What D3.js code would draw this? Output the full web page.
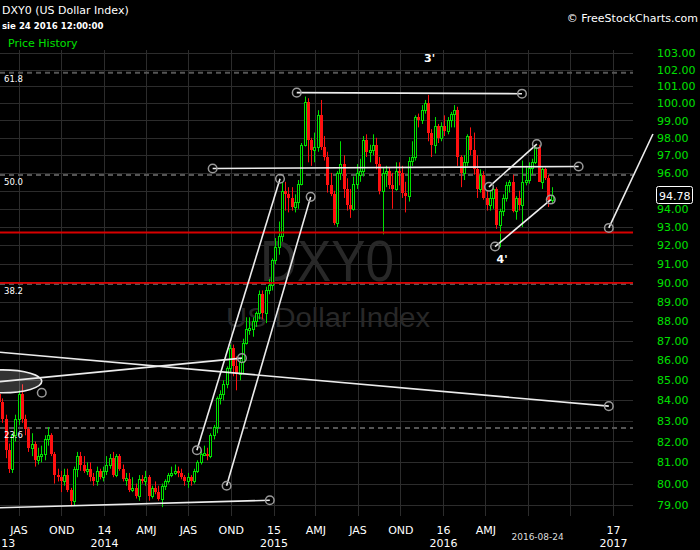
<!DOCTYPE html>
<html><head><meta charset="utf-8">
<script src="https://cdn.jsdelivr.net/npm/d3@7"></script>
<style>html,body{margin:0;padding:0;background:#000;} svg{display:block;}</style>
</head><body>
<svg id="c" width="700" height="550"></svg>
<script>
// ---------------- DATA ----------------
const firstWeek = "2013-05-20"; // weekly candles, one per week from here
const opens = [
 84.3,83.9,83.1,81.6,80.7,82.3,83.1,84.3,83.1,82.6,
 81.7,81.9,81.1,81.3,81.4,82.1,82.3,81.4,80.4,80.3,
 80.1,80.4,79.7,79.2,80.7,81.3,80.9,80.6,80.7,80.3,
 80.1,80.6,80.3,80.6,80.9,81.2,80.4,81.3,80.7,80.15,
 80.2,79.7,79.8,79.4,80.2,80.1,80.3,79.4,79.8,79.6,
 79.3,79.9,80.1,80.4,80.5,80.6,80.5,80.3,80.1,80.3,
 80.1,80.6,81.0,81.35,81.4,81.3,82.3,82.7,84.1,84.3,
 84.8,85.6,86.6,85.7,85.3,85.9,86.9,87.55,87.6,88.0,
 88.4,89.4,88.4,89.6,89.9,91.2,91.9,92.5,95.0,94.8,
 94.6,94.1,94.4,95.4,97.6,100.1,97.9,97.3,97.5,99.3,
 97.5,96.9,95.3,94.8,93.2,96.0,96.5,95.1,94.2,94.0,
 95.4,95.9,96.1,97.9,97.2,97.3,97.6,96.5,95.0,96.0,
 96.1,95.3,95.1,96.1,96.0,94.9,94.7,96.7,96.9,99.2,
 99.0,99.6,100.0,98.3,97.6,98.7,98.0,98.7,98.4,99.0,
 99.4,99.6,96.9,96.0,96.6,98.1,97.3,96.2,95.1,95.9,
 94.6,94.2,94.6,95.1,93.1,93.9,94.6,95.3,95.5,93.9,
 94.6,94.2,95.5,95.6,96.3,96.6,97.5,95.5,96.2,95.7,
 94.5
];
const highs = [
 84.6,84.1,83.3,81.9,82.4,83.3,84.5,84.8,83.3,82.7,
 82.4,82.0,81.7,81.8,82.3,82.7,82.4,81.5,80.7,80.6,
 80.7,80.7,79.8,80.8,81.5,81.5,81.3,81.0,81.0,80.5,
 80.8,80.7,80.8,81.3,81.4,81.5,81.4,81.4,80.9,80.5,
 80.5,80.3,80.0,80.4,80.4,80.6,80.4,79.9,80.1,79.9,
 80.0,80.2,80.5,80.8,80.9,80.8,80.7,80.4,80.5,80.4,
 80.7,81.1,81.6,81.8,81.7,82.4,82.8,84.2,84.5,85.0,
 85.7,86.8,86.8,86.2,86.1,87.1,88.2,88.2,88.2,88.5,
 89.6,89.6,89.8,90.2,91.3,92.4,93.3,95.5,95.5,95.2,
 95.2,94.8,95.6,97.7,100.4,100.3,98.0,98.3,99.6,100.2,
 98.1,97.2,96.0,95.0,96.1,97.8,97.0,95.7,95.1,95.8,
 96.5,96.8,98.1,98.2,97.6,98.2,98.0,96.9,96.3,96.4,
 96.3,96.0,96.6,96.6,96.4,95.5,96.9,97.8,99.3,99.4,
 99.9,100.2,100.5,98.5,99.2,98.8,98.9,99.3,99.2,99.5,
 99.9,99.8,97.0,97.0,98.2,98.6,98.3,97.0,96.2,96.1,
 95.0,95.0,95.3,95.2,94.0,94.8,95.5,95.6,95.9,94.7,
 95.0,96.7,96.4,96.6,96.8,97.5,97.6,96.3,96.3,95.9,
 95.2
];
const lows = [
 83.5,82.9,81.2,80.5,80.5,82.0,82.8,82.9,82.3,81.5,
 81.3,80.8,80.9,81.0,81.1,81.8,81.3,80.0,80.1,79.6,
 79.9,79.6,78.95,79.0,80.3,80.6,80.5,80.4,80.1,79.9,
 79.9,80.2,80.1,80.4,80.7,80.3,80.3,80.6,80.1,79.9,
 79.6,79.6,79.3,79.2,80.0,79.9,79.2,79.3,79.5,79.2,
 78.9,79.7,80.0,80.3,80.4,80.3,80.2,79.9,79.8,79.9,
 80.0,80.5,80.9,81.3,81.1,81.2,82.1,82.4,83.8,84.0,
 84.6,85.4,85.2,84.5,85.0,85.3,86.8,87.3,87.2,87.7,
 88.1,88.1,87.9,89.4,89.6,91.0,91.5,92.2,93.9,93.8,
 93.9,93.8,94.0,95.3,97.5,96.6,96.4,96.6,97.2,97.3,
 96.7,94.9,94.7,93.1,93.0,95.6,94.6,93.9,93.5,93.9,
 95.1,95.5,95.8,96.9,96.6,97.0,96.2,94.8,92.6,95.2,
 95.1,94.0,95.0,95.3,94.6,93.8,94.4,96.4,96.7,98.6,
 98.8,99.4,97.8,96.9,97.1,97.7,97.8,98.1,98.2,98.6,
 98.6,96.4,95.2,95.6,96.4,97.0,95.9,94.6,94.9,94.5,
 93.9,93.9,94.0,92.9,91.9,93.6,94.4,94.9,93.8,93.4,
 93.9,93.0,95.3,95.4,95.9,96.5,95.5,95.1,95.6,94.1,
 94.3
];
const closes = [
 83.9,83.1,81.6,80.7,82.3,83.1,84.3,83.1,82.6,81.7,
 81.9,81.1,81.3,81.4,82.1,82.3,81.4,80.4,80.3,80.1,
 80.4,79.7,79.2,80.7,81.3,80.9,80.6,80.7,80.3,80.1,
 80.6,80.3,80.6,80.9,81.2,80.4,81.3,80.7,80.2,80.25,
 79.7,79.8,79.4,80.2,80.1,80.3,79.4,79.8,79.6,79.3,
 79.9,80.1,80.4,80.5,80.6,80.5,80.3,80.1,80.3,80.1,
 80.6,81.0,81.4,81.45,81.3,82.3,82.7,84.1,84.3,84.8,
 85.6,86.6,85.7,85.3,85.9,86.9,87.6,87.65,88.0,88.4,
 89.4,88.4,89.6,89.9,91.2,91.9,92.5,95.0,94.8,94.6,
 94.1,94.4,95.4,97.6,100.1,97.9,97.3,97.5,99.3,97.5,
 96.9,95.3,94.8,93.2,96.0,96.5,95.1,94.2,94.0,95.4,
 96.0,96.1,97.9,97.2,97.3,97.6,96.5,95.0,96.0,96.1,
 95.3,95.1,96.1,96.0,94.9,94.7,96.7,96.9,99.2,99.0,
 99.6,100.0,98.3,97.6,98.7,98.0,98.7,98.4,99.0,99.4,
 99.6,96.9,96.0,96.6,98.1,97.3,96.2,95.1,95.9,94.6,
 94.2,94.6,95.1,93.1,93.9,94.6,95.3,95.5,93.9,94.6,
 94.2,95.5,95.6,96.3,96.6,97.5,95.5,96.2,95.7,94.5,
 94.78
];
const lastPrice = 94.78;
const priceTicks = [79,80,81,82,83,84,85,86,87,88,89,90,91,92,93,94,95,96,97,98,99,100,101,102,103];
const quarterDates = ["2013-07-01","2013-10-01","2014-01-01","2014-04-01","2014-07-01","2014-10-01","2015-01-01","2015-04-01","2015-07-01","2015-10-01","2016-01-01","2016-04-01","2016-07-01","2016-10-01","2017-01-01"];
const quarterLabels = ["JAS","OND","14","AMJ","JAS","OND","15","AMJ","JAS","OND","16","AMJ","","","17"];
const yearDates = ["2013-06-08","2014-01-01","2015-01-01","2016-01-01","2017-01-01"];
const yearLabels = ["13","2014","2015","2016","2017"];
const cursorDate = "2016-08-24";
const fibLabels = ["61.8","50.0","38.2","23.6"];
const fibPrices = [101.81,95.88,89.94,82.65];
const redLevels = [92.7,90.0];
// trend lines: start date, start price, end date, end price, circle at start, circle at end
const trendLines = [
 ["2015-02-20",100.63,"2016-06-19",100.57,1,1],
 ["2014-08-23",96.25,"2016-10-19",96.36,1,1],
 ["2014-07-20",81.58,"2015-01-15",95.67,1,1],
 ["2014-09-22",79.90,"2015-03-22",94.66,1,1],
 ["2016-04-09",95.22,"2016-07-21",97.64,1,1],
 ["2016-04-22",91.94,"2016-08-20",94.51,1,1],
 ["2013-05-22",86.41,"2016-12-23",83.72,0,1],
 ["2013-05-22",84.93,"2014-10-25",86.11,0,1],
 ["2013-05-22",78.87,"2014-12-24",79.22,0,1]
];
const projection = ["2016-12-23",92.95,"2017-03-28",98.22];
const ellipseBox = ["2013-03-05",85.52,"2013-08-20",84.38];
const waveLabels = ["3'","4'"];
const waveDates = ["2015-12-03","2016-05-07"];
const wavePrices = [102.7,91.27];

// ---------------- CHART ----------------
const FONT = "DejaVu Sans, Verdana, sans-serif";
const svg = d3.select("#c");
const parse = d3.utcParse("%Y-%m-%d");
const plotRight = 633, plotTop = 50, plotBottom = 516;
const x = d3.scaleUtc().domain([parse("2014-01-01"), parse("2017-01-01")]).range([104, 613]);
const y = d3.scaleLog().domain([79, 103]).range([505, 53]);
const GREEN = "#00e000", RED = "#ff1010";

svg.append("rect").attr("width",700).attr("height",550).attr("fill","#000");

const defs = svg.append("defs");
defs.append("clipPath").attr("id","plot").append("rect")
  .attr("x",0).attr("y",plotTop).attr("width",plotRight).attr("height",plotBottom-plotTop);

// grid
const grid = svg.append("g").attr("stroke","#2c2c2c").attr("stroke-width",1);
grid.selectAll("line.v").data(quarterDates).join("line")
  .attr("x1",d=>Math.round(x(parse(d)))+0.5).attr("x2",d=>Math.round(x(parse(d)))+0.5)
  .attr("y1",plotTop).attr("y2",plotBottom);
grid.selectAll("line.h").data(priceTicks).join("line")
  .attr("x1",0).attr("x2",plotRight)
  .attr("y1",d=>Math.round(y(d))+0.5).attr("y2",d=>Math.round(y(d))+0.5);

// watermark
svg.append("text").attr("x",327).attr("y",281).attr("text-anchor","middle")
  .attr("font-family","Liberation Sans, Arial, sans-serif").attr("font-size",57)
  .attr("textLength",134).attr("lengthAdjust","spacingAndGlyphs")
  .attr("fill","#282828").text("DXY0");
svg.append("text").attr("x",328).attr("y",327).attr("text-anchor","middle")
  .attr("font-family","Liberation Sans, Arial, sans-serif").attr("font-size",27)
  .attr("textLength",204).attr("lengthAdjust","spacingAndGlyphs")
  .attr("fill","#282828").text("US Dollar Index");

// fib lines
const fib = svg.append("g");
fib.selectAll("line").data(fibPrices).join("line")
  .attr("x1",0).attr("x2",plotRight)
  .attr("y1",d=>y(d)).attr("y2",d=>y(d))
  .attr("stroke","#555").attr("stroke-width",2).attr("stroke-dasharray","5,4");

// candles
const candles = closes.map((c,i)=>({
  date: d3.utcDay.offset(parse(firstWeek), 7*i),
  o: opens[i], h: highs[i], l: lows[i], c: c
}));
const cg = svg.append("g").attr("clip-path","url(#plot)");
const cs = cg.selectAll("g").data(candles).join("g");
cs.append("line")
  .attr("x1",d=>Math.round(x(d.date))+0.5).attr("x2",d=>Math.round(x(d.date))+0.5)
  .attr("y1",d=>y(d.h)).attr("y2",d=>y(d.l))
  .attr("stroke",d=>d.c>=d.o?GREEN:RED).attr("stroke-width",1);
cs.filter(d=>d.c>=d.o).append("rect")
  .attr("x",d=>Math.round(x(d.date))-0.5).attr("width",2)
  .attr("y",d=>Math.round(y(d.c))+0.5)
  .attr("height",d=>Math.max(1,Math.round(y(d.o))-Math.round(y(d.c))))
  .attr("fill","#000").attr("stroke",GREEN).attr("stroke-width",1);
cs.filter(d=>d.c<d.o).append("rect")
  .attr("x",d=>Math.round(x(d.date))-1).attr("width",3)
  .attr("y",d=>Math.round(y(d.o)))
  .attr("height",d=>Math.max(1,Math.round(y(d.c))-Math.round(y(d.o))))
  .attr("fill",RED);

// fib labels above candles
svg.append("g").selectAll("text").data(fibLabels).join("text")
  .attr("x",4).attr("y",(d,i)=>y(fibPrices[i])+9.5)
  .attr("font-family",FONT).attr("font-size",8.5).attr("fill","#fff").text(d=>d);

// red support lines
svg.append("g").selectAll("line").data(redLevels).join("line")
  .attr("x1",0).attr("x2",plotRight)
  .attr("y1",d=>y(d)).attr("y2",d=>y(d))
  .attr("stroke","#d80000").attr("stroke-width",(d,i)=>i===0?2.2:1.6);

// drawings
const dg = svg.append("g").attr("clip-path","url(#plot)");
const e0x = x(parse(ellipseBox[0])), e1x = x(parse(ellipseBox[2]));
const e0y = y(ellipseBox[1]), e1y = y(ellipseBox[3]);
dg.append("ellipse").attr("cx",(e0x+e1x)/2).attr("cy",(e0y+e1y)/2)
  .attr("rx",Math.abs(e1x-e0x)/2).attr("ry",Math.abs(e1y-e0y)/2)
  .attr("fill","rgba(255,255,255,0.2)").attr("stroke","#eee").attr("stroke-width",1.6);
dg.selectAll("line.t").data(trendLines).join("line")
  .attr("x1",d=>x(parse(d[0]))).attr("y1",d=>y(d[1]))
  .attr("x2",d=>x(parse(d[2]))).attr("y2",d=>y(d[3]))
  .attr("stroke","#ececec").attr("stroke-width",1.6);
svg.append("line")
  .attr("x1",x(parse(projection[0]))).attr("y1",y(projection[1]))
  .attr("x2",x(parse(projection[2]))).attr("y2",y(projection[3]))
  .attr("stroke","#ececec").attr("stroke-width",1.6);

const marks = [];
trendLines.forEach(t=>{
  if(t[4]) marks.push([t[0],t[1]]);
  if(t[5]) marks.push([t[2],t[3]]);
});
marks.push([projection[0],projection[1]]);
marks.push([ellipseBox[2],ellipseBox[3]]);
svg.append("g").selectAll("circle").data(marks).join("circle")
  .attr("cx",d=>x(parse(d[0]))).attr("cy",d=>y(d[1])).attr("r",4.3)
  .attr("fill","none").attr("stroke","#9a9a9a").attr("stroke-width",1.5);

svg.append("g").selectAll("text").data(waveLabels).join("text")
  .attr("x",(d,i)=>x(parse(waveDates[i]))).attr("y",(d,i)=>y(wavePrices[i])+4)
  .attr("text-anchor","middle").attr("font-family",FONT).attr("font-size",11)
  .attr("font-weight","bold").attr("fill","#fff").text(d=>d);

// price axis (the label hidden behind the last-price box is skipped)
const ly = y(lastPrice);
const yAxis = svg.append("g").attr("transform","translate(657,0)")
  .call(d3.axisRight(y).tickValues(priceTicks.filter(p=>Math.abs(y(p)-ly)>12))
    .tickFormat(d3.format(".2f")).tickSize(0).tickPadding(0));
yAxis.select(".domain").remove();
yAxis.selectAll("text").attr("fill",GREEN).attr("font-family",FONT).attr("font-size",11);

// last price box
svg.append("rect").attr("x",656.5).attr("y",Math.round(ly-8.5)+0.5).attr("width",36).attr("height",17)
  .attr("rx",2).attr("fill","#000").attr("stroke","#fff").attr("stroke-width",1);
svg.append("text").attr("x",659).attr("y",Math.round(ly-8.5)+13.5)
  .attr("font-family",FONT).attr("font-size",11).attr("fill","#fff").text(lastPrice.toFixed(2));

// time axis
const xAxis1 = svg.append("g").attr("transform","translate(0,526)")
  .call(d3.axisBottom(x).tickValues(quarterDates.map(parse)).tickFormat((d,i)=>quarterLabels[i]).tickSize(0).tickPadding(0));
xAxis1.select(".domain").remove();
xAxis1.selectAll("text").attr("fill","#fff").attr("font-family",FONT).attr("font-size",11);
const xAxis2 = svg.append("g").attr("transform","translate(0,539)")
  .call(d3.axisBottom(x).tickValues(yearDates.map(parse)).tickFormat((d,i)=>yearLabels[i]).tickSize(0).tickPadding(0));
xAxis2.select(".domain").remove();
xAxis2.selectAll("text").attr("fill","#fff").attr("font-family",FONT).attr("font-size",11);
svg.append("text").attr("x",x(parse(cursorDate))-15).attr("y",540).attr("text-anchor","middle")
  .attr("font-family",FONT).attr("font-size",9).attr("fill","#ddd").text(cursorDate);

// header
svg.append("text").attr("x",2).attr("y",13.5).attr("font-family",FONT).attr("font-size",11)
  .attr("fill","#fff").text("DXY0 (US Dollar Index)");
svg.append("text").attr("x",2).attr("y",29).attr("font-family",FONT).attr("font-size",8.6)
  .attr("font-weight","bold").attr("fill","#fff").text("sie 24 2016 12:00:00");
svg.append("text").attr("x",8).attr("y",47).attr("font-family",FONT).attr("font-size",11)
  .attr("fill",GREEN).text("Price History");
svg.append("text").attr("x",698).attr("y",21.5).attr("text-anchor","end").attr("font-family",FONT)
  .attr("font-size",11).attr("fill","#fff").text("\u00A9 FreeStockCharts.com");
</script>
</body></html>
